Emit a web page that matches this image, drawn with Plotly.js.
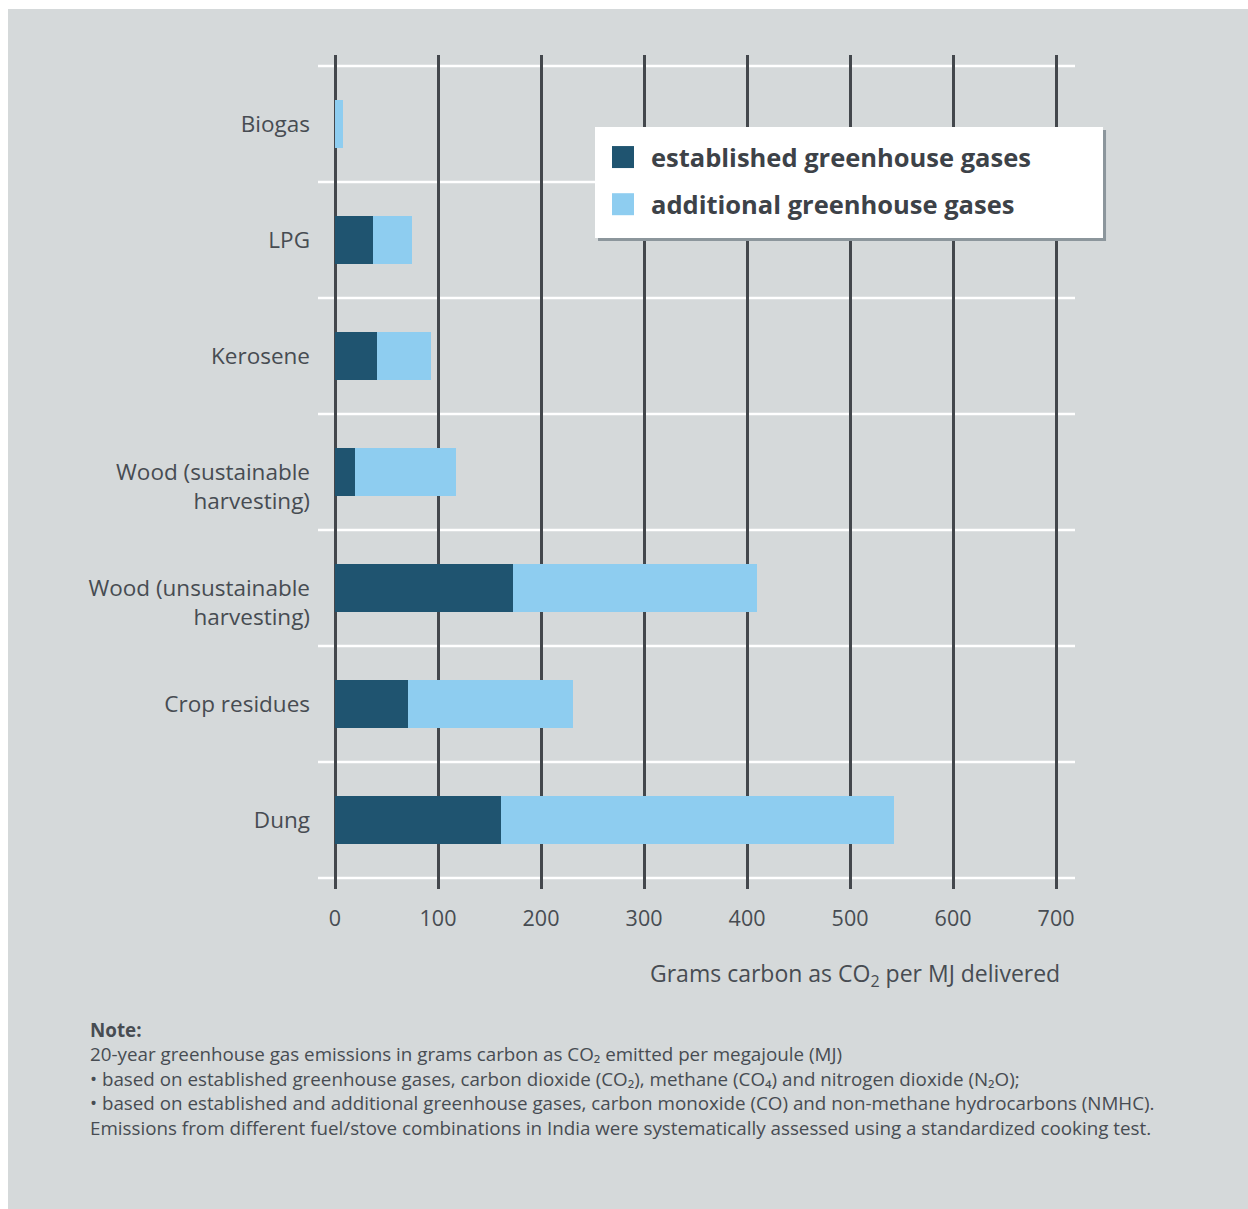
<!DOCTYPE html>
<html>
<head>
<meta charset="utf-8">
<script src="https://cdn.plot.ly/plotly-3.0.1.min.js"></script>
<style>
  html, body { margin: 0; padding: 0; overflow: hidden; background: #ffffff; }
  #chart { position: absolute; left: 8px; top: 9px; width: 1240px; height: 1200px; }
</style>
</head>
<body>
<div id="chart"></div>
<script>
// ---- Data ----
const categories = [
  'Biogas',
  'LPG',
  'Kerosene',
  'Wood (sustainable<br>harvesting)',
  'Wood (unsustainable<br>harvesting)',
  'Crop residues',
  'Dung'
];
const established = [0, 37, 41, 19, 173, 71, 161];
const additional  = [8, 38, 52, 98, 237, 160, 382];
const seriesNames = ['established greenhouse gases', 'additional greenhouse gases'];
const xTickValues = [0, 100, 200, 300, 400, 500, 600, 700];
const axisTitle = 'Grams carbon as CO<sub>2</sub> per MJ delivered';
const noteLines = [
  '<b>Note:</b>',
  '20-year greenhouse gas emissions in grams carbon as CO₂ emitted per megajoule (MJ)',
  '• based on established greenhouse gases, carbon dioxide (CO₂), methane (CO₄) and nitrogen dioxide (N₂O);',
  '• based on established and additional greenhouse gases, carbon monoxide (CO) and non-methane hydrocarbons (NMHC).',
  'Emissions from different fuel/stove combinations in India were systematically assessed using a standardized cooking test.'
];

// ---- Style ----
const FONT = '"Open Sans", Lato, sans-serif';
const TEXT = '#474c52';
const DARK = '#1f5470';
const LIGHT = '#8ecdf0';
const BG = '#d5d9da';

// tick label text: two-line labels get a blank lead line so their first line sits on the category centre
const tickText = categories.map(c => c.indexOf('<br>') >= 0 ? ' <br>' + c : c);

const traces = [
  {
    type: 'bar', orientation: 'h', name: seriesNames[0],
    y: categories, x: established,
    marker: { color: DARK, line: { width: 0 } },
    legendgroup: 'a', hoverinfo: 'x+y'
  },
  {
    type: 'bar', orientation: 'h', name: seriesNames[1],
    y: categories, x: additional,
    marker: { color: LIGHT, line: { width: 0 } },
    legendgroup: 'b', hoverinfo: 'x+y'
  }
];

// category separators (white lines between categories)
const shapes = [];
for (let i = 0; i <= categories.length; i++) {
  shapes.push({
    type: 'line', layer: 'below', xref: 'paper', yref: 'y',
    x0: 0, x1: 1, y0: i - 0.5, y1: i - 0.5,
    line: { color: '#ffffff', width: 2.5 }
  });
}
// legend box with shadow
shapes.push({
  type: 'rect', layer: 'above', xref: 'paper', yref: 'paper',
  x0: 0.3699, x1: 1.0410, y0: 0.7770, y1: 0.9101,
  fillcolor: '#8c969c', line: { width: 0 }
});
shapes.push({
  type: 'rect', layer: 'above', xref: 'paper', yref: 'paper',
  x0: 0.3659, x1: 1.0370, y0: 0.7806, y1: 0.9137,
  fillcolor: '#ffffff', line: { width: 0 }
});

const annotations = [
  {
    xref: 'paper', yref: 'paper', x: 0.9829, y: -0.1031,
    xanchor: 'right', yanchor: 'middle', showarrow: false,
    text: axisTitle, font: { family: FONT, size: 23, color: TEXT }
  },
  {
    xref: 'paper', yref: 'paper',
    x: (88 - 318) / 757, y: (889 - 1079) / 834,
    xanchor: 'left', yanchor: 'middle', align: 'left', showarrow: false,
    text: noteLines.join('<br>'), font: { family: FONT, size: 18.8, color: TEXT }
  }
];

const layout = {
  width: 1240, height: 1200,
  paper_bgcolor: BG, plot_bgcolor: BG,
  margin: { l: 310, r: 173, t: 46, b: 320 },
  barmode: 'stack',
  bargap: 0.59,
  font: { family: FONT, color: TEXT },
  showlegend: true,
  legend: {
    x: 0.3659, y: 0.9053, xanchor: 'left', yanchor: 'top',
    bgcolor: 'rgba(0,0,0,0)', borderwidth: 0,
    font: { family: FONT, size: 25.5, color: '#3d4248', weight: 'bold' },
    itemwidth: 46, tracegroupgap: 11, traceorder: 'grouped',
    itemclick: false, itemdoubleclick: false
  },
  xaxis: {
    range: [-16.5, 718.4],
    tickvals: xTickValues,
    showgrid: true, gridcolor: '#43474c', gridwidth: 3,
    zeroline: false, showline: false, ticks: '',
    tickfont: { family: FONT, size: 21.5, color: TEXT },
    ticklabelstandoff: 14
  },
  yaxis: {
    type: 'category',
    categoryorder: 'array', categoryarray: categories,
    tickvals: categories, ticktext: tickText,
    range: [6.595, -0.595],
    showgrid: false, zeroline: false, showline: false, ticks: '',
    tickfont: { family: FONT, size: 22.5, color: TEXT },
    ticklabelstandoff: 7
  },
  shapes: shapes,
  annotations: annotations
};

Plotly.newPlot('chart', traces, layout, { displayModeBar: false, staticPlot: true }).then(gd => {
  // enlarge legend swatches
  gd.querySelectorAll('.legend .legendpoints path').forEach(p => {
    p.setAttribute('d', 'M11,11H-11V-11H11Z');
  });
});
</script>
</body>
</html>
